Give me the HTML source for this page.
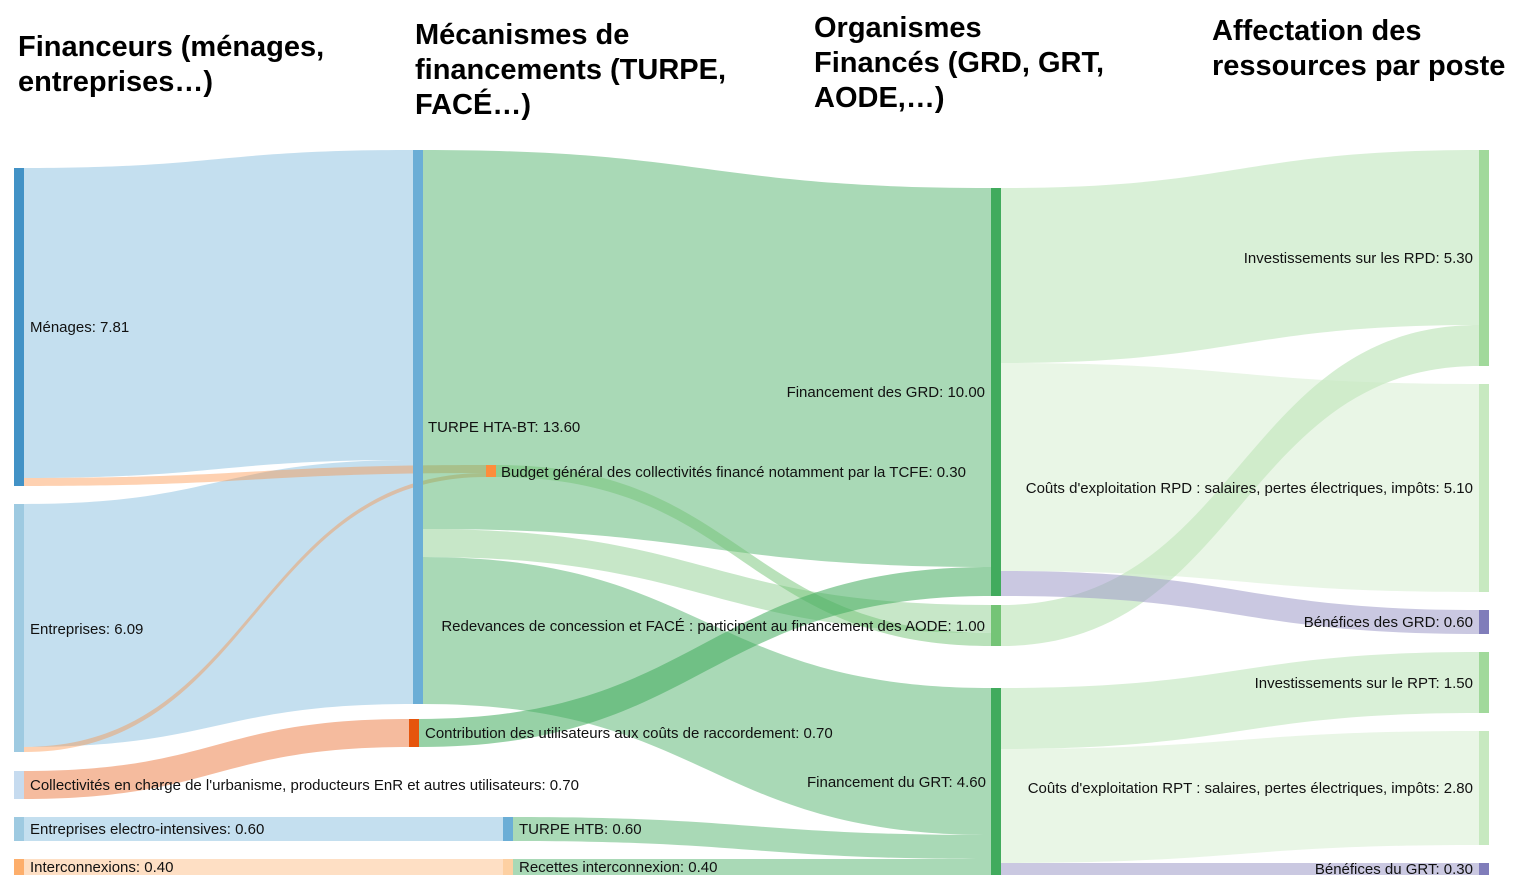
<!DOCTYPE html>
<html><head><meta charset="utf-8"><style>
html,body{margin:0;padding:0;background:#fff;}
svg{display:block;font-family:"Liberation Sans",sans-serif;}
.h{font-size:29px;font-weight:bold;fill:#000;}
.l{font-size:15px;fill:#111;}
</style></head><body>
<svg width="1527" height="887" viewBox="0 0 1527 887">
<g>
<path d="M24,168 C218,168 218,150 413,150 L413,460 C218,460 218,478 24,478 Z" fill="#6baed6" fill-opacity="0.4"/>
<path d="M24,504 C218,504 218,460 413,460 L413,704 C218,704 218,747 24,747 Z" fill="#6baed6" fill-opacity="0.4"/>
<path d="M24,478 C255,478 255,465 486,465 L486,473 C255,473 255,486 24,486 Z" fill="#fd8d3c" fill-opacity="0.4"/>
<path d="M24,747 C255,747 255,473 486,473 L486,477 C255,477 255,752 24,752 Z" fill="#fd8d3c" fill-opacity="0.4"/>
<path d="M24,771 C216,771 216,719 409,719 L409,747 C216,747 216,799 24,799 Z" fill="#e6550d" fill-opacity="0.4"/>
<path d="M24,817 L503,817 L503,841 L24,841 Z" fill="#6baed6" fill-opacity="0.4"/>
<path d="M24,859 L503,859 L503,875 L24,875 Z" fill="#fdae6b" fill-opacity="0.4"/>
<path d="M423,150 C707,150 707,188 991,188 L991,567 C707,567 707,529 423,529 Z" fill="#41ab5d" fill-opacity="0.45"/>
<path d="M423,529 C707,529 707,605 991,605 L991,633 C707,633 707,557 423,557 Z" fill="#74c476" fill-opacity="0.4"/>
<path d="M423,557 C707,557 707,688 991,688 L991,835 C707,835 707,704 423,704 Z" fill="#41ab5d" fill-opacity="0.45"/>
<path d="M496,465 C743,465 743,633 991,633 L991,646 C743,646 743,477 496,477 Z" fill="#74c476" fill-opacity="0.5"/>
<path d="M419,719 C705,719 705,567 991,567 L991,596 C705,596 705,747 419,747 Z" fill="#41ab5d" fill-opacity="0.55"/>
<path d="M513,817 C752,817 752,835 991,835 L991,859 C752,859 752,841 513,841 Z" fill="#41ab5d" fill-opacity="0.45"/>
<path d="M513,859 L991,859 L991,875 L513,875 Z" fill="#41ab5d" fill-opacity="0.45"/>
<path d="M1001,188 C1240,188 1240,150 1479,150 L1479,325 C1240,325 1240,363 1001,363 Z" fill="#a1d99b" fill-opacity="0.4"/>
<path d="M1001,605 C1240,605 1240,325 1479,325 L1479,366 C1240,366 1240,646 1001,646 Z" fill="#a1d99b" fill-opacity="0.45"/>
<path d="M1001,363 C1240,363 1240,384 1479,384 L1479,592 C1240,592 1240,571 1001,571 Z" fill="#c7e9c0" fill-opacity="0.4"/>
<path d="M1001,571 C1240,571 1240,610 1479,610 L1479,634 C1240,634 1240,596 1001,596 Z" fill="#9e9ac8" fill-opacity="0.55"/>
<path d="M1001,688 C1240,688 1240,652 1479,652 L1479,713 C1240,713 1240,749 1001,749 Z" fill="#a1d99b" fill-opacity="0.4"/>
<path d="M1001,749 C1240,749 1240,731 1479,731 L1479,845 C1240,845 1240,863 1001,863 Z" fill="#c7e9c0" fill-opacity="0.4"/>
<path d="M1001,863 L1479,863 L1479,875 L1001,875 Z" fill="#9e9ac8" fill-opacity="0.55"/>
</g>
<g>
<rect x="14" y="168" width="10" height="318" fill="#4292c6"/>
<rect x="14" y="504" width="10" height="248" fill="#9ecae1"/>
<rect x="14" y="771" width="10" height="28" fill="#c6dbef"/>
<rect x="14" y="817" width="10" height="24" fill="#9ecae1"/>
<rect x="14" y="859" width="10" height="16" fill="#fdae6b"/>
<rect x="413" y="150" width="10" height="554" fill="#6baed6"/>
<rect x="486" y="465" width="10" height="12" fill="#fd8d3c"/>
<rect x="409" y="719" width="10" height="28" fill="#e6550d"/>
<rect x="503" y="817" width="10" height="24" fill="#6baed6"/>
<rect x="503" y="859" width="10" height="16" fill="#fdd0a2"/>
<rect x="991" y="188" width="10" height="408" fill="#41ab5d"/>
<rect x="991" y="605" width="10" height="41" fill="#74c476"/>
<rect x="991" y="688" width="10" height="187" fill="#41ab5d"/>
<rect x="1479" y="150" width="10" height="216" fill="#a1d99b"/>
<rect x="1479" y="384" width="10" height="208" fill="#c7e9c0"/>
<rect x="1479" y="610" width="10" height="24" fill="#807dba"/>
<rect x="1479" y="652" width="10" height="61" fill="#a1d99b"/>
<rect x="1479" y="731" width="10" height="114" fill="#c7e9c0"/>
<rect x="1479" y="863" width="10" height="12" fill="#807dba"/>
</g>
<g class="l">
<text x="30" y="332">Ménages: 7.81</text>
<text x="30" y="634">Entreprises: 6.09</text>
<text x="30" y="790">Collectivités en charge de l'urbanisme, producteurs EnR et autres utilisateurs: 0.70</text>
<text x="30" y="834">Entreprises electro-intensives: 0.60</text>
<text x="30" y="872">Interconnexions: 0.40</text>
<text x="428" y="432">TURPE HTA-BT: 13.60</text>
<text x="501" y="477">Budget général des collectivités financé notamment par la TCFE: 0.30</text>
<text x="425" y="738">Contribution des utilisateurs aux coûts de raccordement: 0.70</text>
<text x="519" y="834">TURPE HTB: 0.60</text>
<text x="519" y="872">Recettes interconnexion: 0.40</text>
<text x="985" y="397" text-anchor="end">Financement des GRD: 10.00</text>
<text x="985" y="631" text-anchor="end">Redevances de concession et FACÉ : participent au financement des AODE: 1.00</text>
<text x="986" y="787" text-anchor="end">Financement du GRT: 4.60</text>
<text x="1473" y="263" text-anchor="end">Investissements sur les RPD: 5.30</text>
<text x="1473" y="493" text-anchor="end">Coûts d'exploitation RPD : salaires, pertes électriques, impôts: 5.10</text>
<text x="1473" y="627" text-anchor="end">Bénéfices des GRD: 0.60</text>
<text x="1473" y="688" text-anchor="end">Investissements sur le RPT: 1.50</text>
<text x="1473" y="793" text-anchor="end">Coûts d'exploitation RPT : salaires, pertes électriques, impôts: 2.80</text>
<text x="1473" y="874" text-anchor="end">Bénéfices du GRT: 0.30</text>
</g>
<g class="h">
<text x="18" y="56">Financeurs (ménages,</text>
<text x="18" y="91">entreprises…)</text>
<text x="415" y="44">Mécanismes de</text>
<text x="415" y="79">financements (TURPE,</text>
<text x="415" y="114">FACÉ…)</text>
<text x="814" y="37">Organismes</text>
<text x="814" y="72">Financés (GRD, GRT,</text>
<text x="814" y="107">AODE,…)</text>
<text x="1212" y="40">Affectation des</text>
<text x="1212" y="75">ressources par poste</text>
</g>
</svg>
</body></html>
